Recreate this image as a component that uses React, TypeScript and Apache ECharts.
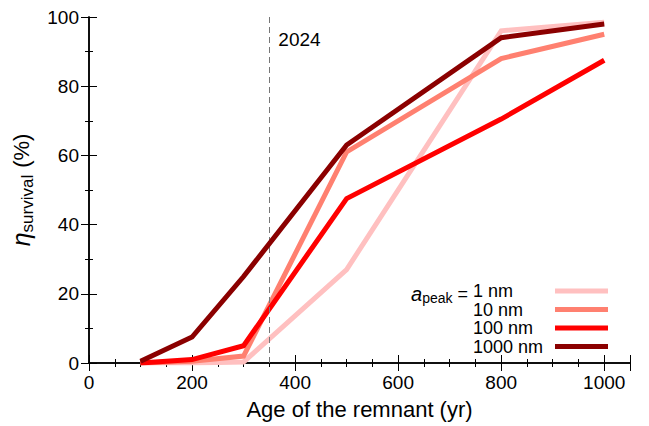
import React, { useEffect, useRef } from "react";
import * as echarts from "echarts";

const ages = [100, 200, 300, 500, 800, 1000];
const seriesNames = ["1 nm", "10 nm", "100 nm", "1000 nm"];
const s1nm = [0, 0, 0.3, 27, 96, 98.5];
const s10nm = [0, 0.5, 2, 61, 88, 95];
const s100nm = [0, 1, 5, 47.5, 70.5, 87.5];
const s1000nm = [0.5, 7.5, 25, 63, 94, 98];
const colors = ["#ffc0c0", "#ff8070", "#ff0000", "#8b0000"];
const markerYear = 350;
const markerLabel = "2024";
const xTicks = [0, 200, 400, 600, 800, 1000];

const FONT = "'Liberation Sans', Arial, Helvetica, sans-serif";

export default function App() {
  const ref = useRef<HTMLDivElement>(null);
  useEffect(() => {
    document.body.style.margin = "0";
    if (!ref.current) return;
    const chart = echarts.init(ref.current, null, { renderer: "svg" });
    const values = [s1nm, s10nm, s100nm, s1000nm];
    const axisCommon = {
      axisLine: { show: true, lineStyle: { color: "#000", width: 1.5 } },
      axisTick: { show: true, inside: true, length: 8, lineStyle: { color: "#000", width: 1 } },
      minorTick: { show: true, length: 4, lineStyle: { color: "#000", width: 1 } },
      splitLine: { show: false },
    };
    const legendRowsY = [291, 309.5, 328, 346.5];
    const legendGraphics: any[] = [];
    legendRowsY.forEach((y, i) => {
      legendGraphics.push({
        type: "text",
        x: 473,
        y: y,
        style: {
          text: seriesNames[i],
          font: `18px ${FONT}`,
          fill: "#000",
          verticalAlign: "middle",
          lineHeight: 16,
        },
        silent: true,
      });
      legendGraphics.push({
        type: "line",
        shape: { x1: 555, y1: y, x2: 608, y2: y },
        style: { stroke: colors[i], lineWidth: 5 },
        silent: true,
      });
    });
    legendGraphics.push({
      type: "text",
      x: 468,
      y: legendRowsY[0] + 3,
      style: {
        text: "{a|a}{s|peak}{t| =}",
        align: "right",
        verticalAlign: "middle",
        rich: {
          a: { font: `italic 20px ${FONT}`, fill: "#000", verticalAlign: "middle", lineHeight: 22 },
          s: { font: `14px ${FONT}`, fill: "#000", verticalAlign: "bottom", lineHeight: 11 },
          t: { font: `18px ${FONT}`, fill: "#000", verticalAlign: "middle", lineHeight: 22 },
        },
      },
      silent: true,
    });

    chart.setOption({
      animation: false,
      grid: { left: 89, right: 19, top: 17, bottom: 63 },
      xAxis: [
        {
          type: "value",
          min: 0,
          max: 1050,
          interval: 200,
          name: "Age of the remnant (yr)",
          nameLocation: "middle",
          nameGap: 35,
          nameTextStyle: { fontFamily: FONT, fontSize: 22, color: "#000" },
          axisLabel: {
            fontFamily: FONT,
            fontSize: 19,
            color: "#000",
            margin: 10,
            formatter: (v: number) => (xTicks.includes(v) ? String(v) : ""),
          },
          minorTick: { ...axisCommon.minorTick, splitNumber: 4 },
          axisLine: axisCommon.axisLine,
          axisTick: axisCommon.axisTick,
          splitLine: axisCommon.splitLine,
        },
        {
          type: "value",
          position: "top",
          min: 0,
          max: 1050,
          interval: 200,
          axisLabel: { show: false },
          minorTick: { ...axisCommon.minorTick, splitNumber: 4 },
          axisLine: axisCommon.axisLine,
          axisTick: axisCommon.axisTick,
          splitLine: axisCommon.splitLine,
        },
      ],
      yAxis: [
        {
          type: "value",
          min: 0,
          max: 100,
          interval: 20,
          name: "{e|η}{s|survival}{p|(%)}",
          nameLocation: "middle",
          nameGap: 50,
          nameTextStyle: {
            fontFamily: FONT,
            color: "#000",
            rich: {
              e: { fontFamily: FONT, fontStyle: "italic", fontSize: 25, color: "#000", lineHeight: 30, verticalAlign: "middle" },
              s: { fontFamily: FONT, fontSize: 17, color: "#000", lineHeight: 12, verticalAlign: "bottom" },
              p: { fontFamily: FONT, fontSize: 22, color: "#000", lineHeight: 30, verticalAlign: "middle", padding: [0, 0, 0, 7] },
            },
          },
          axisLabel: { fontFamily: FONT, fontSize: 19, color: "#000", margin: 10 },
          minorTick: { ...axisCommon.minorTick, splitNumber: 2 },
          axisLine: axisCommon.axisLine,
          axisTick: axisCommon.axisTick,
          splitLine: axisCommon.splitLine,
        },
        {
          type: "value",
          position: "right",
          min: 0,
          max: 100,
          interval: 20,
          axisLabel: { show: false },
          minorTick: { ...axisCommon.minorTick, splitNumber: 2 },
          axisLine: axisCommon.axisLine,
          axisTick: axisCommon.axisTick,
          splitLine: axisCommon.splitLine,
        },
      ],
      series: values.map((vals, i) => ({
        name: seriesNames[i],
        type: "line",
        xAxisIndex: 0,
        yAxisIndex: 0,
        data: ages.map((a, j) => [a, vals[j]]),
        showSymbol: false,
        symbol: "none",
        lineStyle: { color: colors[i], width: 5, cap: "butt", join: "miter" },
        itemStyle: { color: colors[i] },
        z: 2 + i,
        markLine:
          i === 0
            ? {
                silent: true,
                symbol: "none",
                label: { show: false },
                lineStyle: { color: "#777", type: [6, 4], width: 1 },
                data: [{ xAxis: markerYear }],
              }
            : undefined,
      })),
      graphic: legendGraphics,
    });

    const px = chart.convertToPixel({ xAxisIndex: 0 }, markerYear) as number;
    chart.setOption({
      graphic: [
        ...legendGraphics,
        {
          type: "text",
          x: px + 9,
          y: 39,
          style: { text: markerLabel, font: `19px ${FONT}`, fill: "#000", verticalAlign: "middle" },
          silent: true,
        },
      ],
    });

    return () => chart.dispose();
  }, []);
  return <div ref={ref} style={{ width: 649, height: 426 }} />;
}
